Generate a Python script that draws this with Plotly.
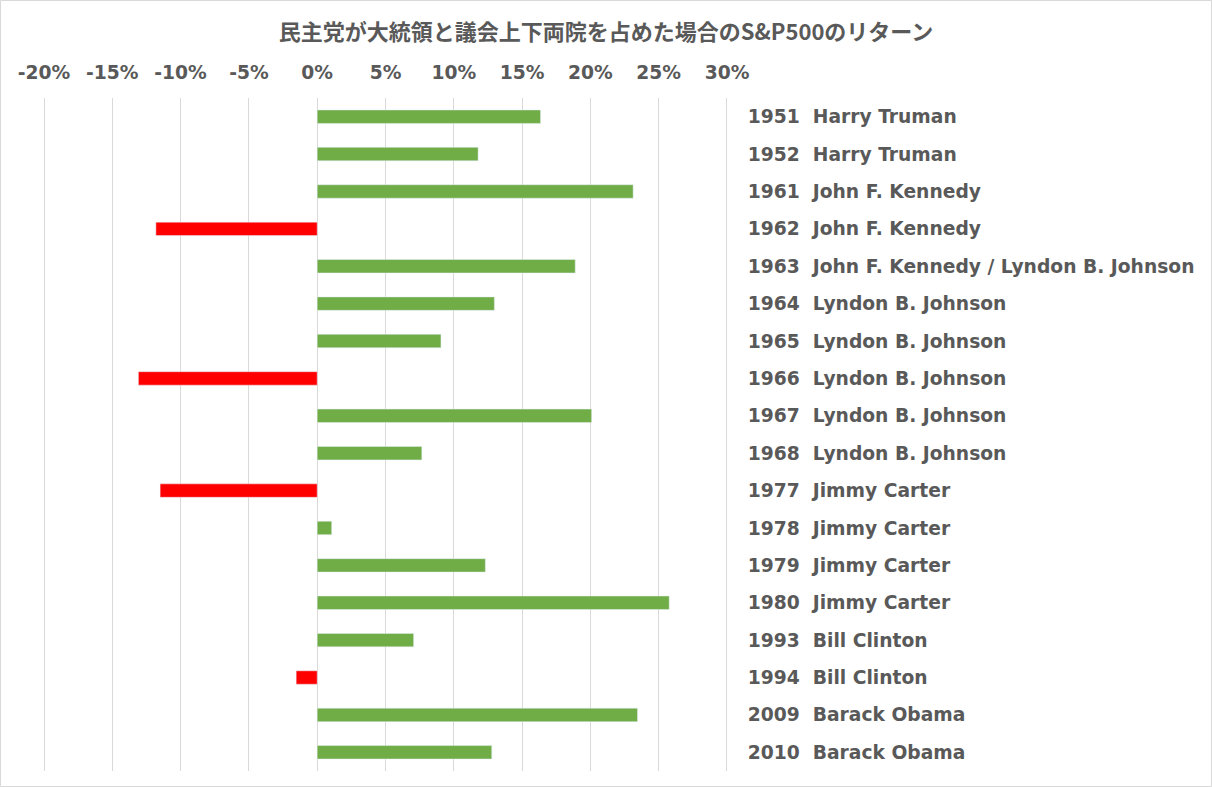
import plotly.graph_objects as go

years = ["1951", "1952", "1961", "1962", "1963", "1964", "1965", "1966", "1967",
         "1968", "1977", "1978", "1979", "1980", "1993", "1994", "2009", "2010"]
presidents = ["Harry Truman", "Harry Truman", "John F. Kennedy", "John F. Kennedy",
              "John F. Kennedy / Lyndon B. Johnson", "Lyndon B. Johnson",
              "Lyndon B. Johnson", "Lyndon B. Johnson", "Lyndon B. Johnson",
              "Lyndon B. Johnson", "Jimmy Carter", "Jimmy Carter", "Jimmy Carter",
              "Jimmy Carter", "Bill Clinton", "Bill Clinton", "Barack Obama",
              "Barack Obama"]
returns = [0.1635, 0.1178, 0.2313, -0.1181, 0.1889, 0.1297, 0.0906, -0.1309, 0.2009,
           0.0766, -0.1150, 0.0106, 0.1231, 0.2577, 0.0706, -0.0154, 0.2345, 0.1278]
tick_vals = [-0.20, -0.15, -0.10, -0.05, 0, 0.05, 0.10, 0.15, 0.20, 0.25, 0.30]
tick_text = ["-20%", "-15%", "-10%", "-5%", "0%", "5%", "10%", "15%", "20%", "25%", "30%"]

labels = [y + "\u00a0\u00a0" + p for y, p in zip(years, presidents)]
colors = ["#70AD47" if r >= 0 else "#FF0000" for r in returns]

W, H = 1212, 787
L, R, T, B = 41, 482, 98, 16   # plot area a few px wider so edge gridlines show
pw, ph = W - L - R, H - T - B
label_font = dict(family="DejaVu Sans", size=18.7, color="#595959", weight="bold")

fig = go.Figure()
fig.add_trace(go.Bar(
    x=returns,
    y=labels,
    orientation="h",
    marker_color=colors,
    width=0.36,
))

fig.update_layout(
    width=W, height=H,
    margin=dict(l=L, r=R, t=T, b=B),
    plot_bgcolor="white",
    paper_bgcolor="white",
    showlegend=False,
    title=dict(
        text="民主党が大統領と議会上下両院を占めた場合のS&P500のリターン",
        x=0.5, xref="container", xanchor="center",
        y=1 - 32 / H, yanchor="middle",
        font=dict(family="Noto Sans CJK JP", size=22, color="#595959", weight="bold"),
    ),
    xaxis=dict(
        side="top",
        range=[-0.2022, 0.3022],
        tickvals=tick_vals,
        ticktext=tick_text,
        showgrid=True,
        gridcolor="#D9D9D9",
        gridwidth=1,
        zeroline=False,
        showline=False,
        ticks="outside",
        ticklen=11,
        tickcolor="rgba(0,0,0,0)",
        tickfont=label_font,
        automargin=False,
        fixedrange=True,
    ),
    yaxis=dict(
        side="right",
        autorange="reversed",
        showgrid=False,
        zeroline=False,
        showline=False,
        ticks="outside",
        ticklen=13,
        tickcolor="rgba(0,0,0,0)",
        tickfont=label_font,
        automargin=False,
        fixedrange=True,
    ),
)

# light border around the whole chart area
fig.add_shape(
    type="rect", xref="paper", yref="paper",
    x0=-(L - 0.5) / pw, x1=(W - L - 0.5) / pw,
    y0=-(B - 0.5) / ph, y1=1 + (T - 0.5) / ph,
    line=dict(color="#D9D9D9", width=1),
    fillcolor="rgba(0,0,0,0)",
)

fig.write_html("out.html", config={"displayModeBar": False},
               post_script="document.body.style.margin='0';")
